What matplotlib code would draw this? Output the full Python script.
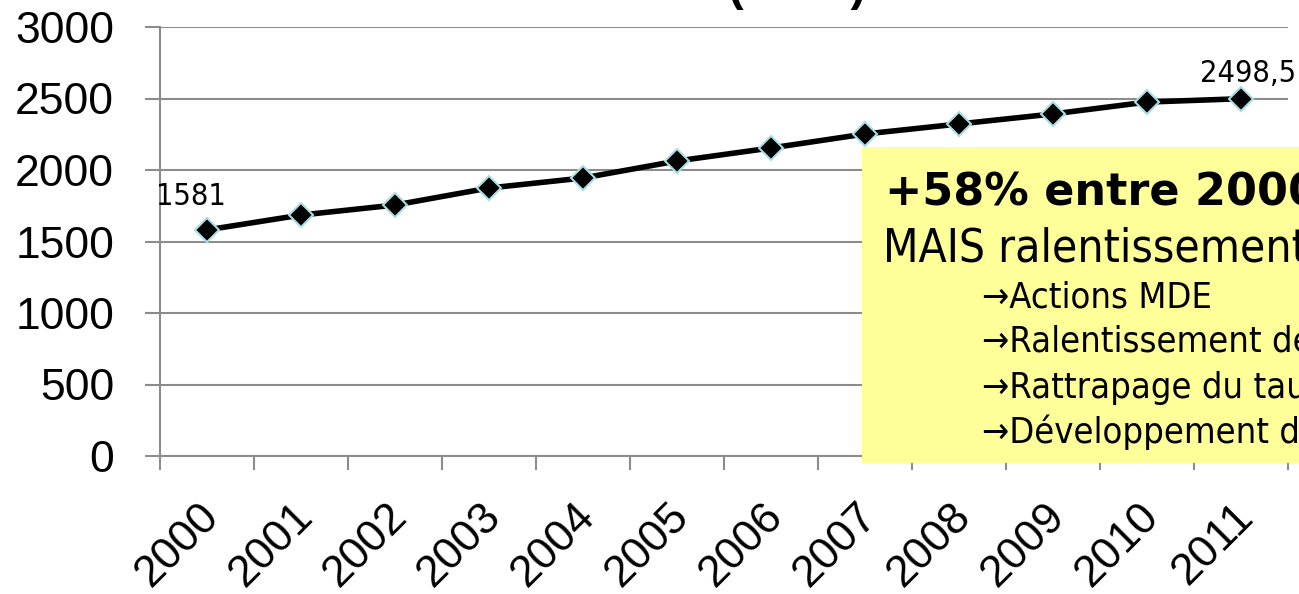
import matplotlib.pyplot as plt
from matplotlib.patches import Rectangle
from matplotlib.transforms import ScaledTranslation

years = ['2000', '2001', '2002', '2003', '2004', '2005',
         '2006', '2007', '2008', '2009', '2010', '2011']
conso = [1581, 1685, 1755, 1874, 1944, 2063, 2154, 2252, 2322, 2392, 2475, 2498.5]
shown_labels = ['1581', '', '', '', '', '', '', '', '', '', '', '2498,5']

box_title = '+58% entre 2000 et 2011'
box_sub = 'MAIS ralentissement de la croissance'
box_items = ['→Actions MDE',
             '→Ralentissement de la croissance démographique',
             '→Rattrapage du taux d\'équipement',
             '→Développement des énergies renouvelables']

W, H = 1299, 594
grey = '#8c8c8c'
label_font = ['DejaVu Sans']

fig = plt.figure(figsize=(W / 100, H / 100), dpi=100)
ax = fig.add_axes([160 / W, 1 - 456 / H, (1288 - 160) / W, (456 - 27) / H])

x = list(range(len(years)))
ax.plot(x, conso, color='black', lw=4, marker='D', markersize=12,
        markerfacecolor='black', markeredgecolor='#a9dde2', markeredgewidth=1.5,
        zorder=3, clip_on=False)

# data labels on first and last points
offsets = [(-11.5, 18), (5, 12)]
k = 0
for i, lab in enumerate(shown_labels):
    if lab:
        ax.annotate(lab, (x[i], conso[i]), xytext=offsets[k], textcoords='offset points',
                    ha='center', va='baseline', fontsize=22, family=label_font,
                    fontstretch='condensed', annotation_clip=False)
        k += 1

ax.set_xlim(-0.5, len(years) - 0.5)
ax.set_ylim(0, 3000)
ax.set_yticks(range(0, 3001, 500))
ax.grid(axis='y', color=grey, lw=1.5)
ax.set_axisbelow(True)

for s in ['top', 'right']:
    ax.spines[s].set_visible(False)
for s in ['left', 'bottom']:
    ax.spines[s].set_color(grey)
    ax.spines[s].set_linewidth(1.5)

ax.tick_params(axis='y', length=11, width=1.5, color=grey, pad=22,
               labelsize=32, labelfontfamily='Liberation Sans')

# category boundaries carry the tick marks, labels sit at the centres
ax.set_xticks([i - 0.5 for i in range(len(years) + 1)], minor=True)
ax.tick_params(axis='x', which='minor', length=10, width=1.5, color=grey)
ax.set_xticks(x)
ax.set_xticklabels(years, rotation=45, ha='right', va='center',
                   rotation_mode='anchor', fontsize=32, family='Liberation Sans')
ax.tick_params(axis='x', which='major', length=0, pad=0)
shift = ScaledTranslation(6 / 100, -54 / 100, fig.dpi_scale_trans)
for t in ax.get_xticklabels():
    t.set_transform(t.get_transform() + shift)

# title, mostly above the top edge
fig.text(866 / W, 1.0, "Consommation d'électricité (GWh)", ha='right', va='baseline',
         fontsize=33, fontweight='bold', family='Liberation Sans')

# yellow comment box
fig.add_artist(Rectangle((862 / W, 1 - 463 / H), (1320 - 862) / W, (463 - 147) / H,
                         transform=fig.transFigure, facecolor='#ffff99',
                         edgecolor='none', zorder=5))
fig.text(885 / W, 1 - 205 / H, box_title, fontsize=32, fontweight='bold',
         family=label_font, va='baseline', zorder=6)
fig.text(883 / W, 1 - 262 / H, box_sub, fontsize=33, family=label_font,
         fontstretch='condensed', va='baseline', zorder=6)
for j, item in enumerate(box_items):
    fig.text(982 / W, 1 - (307 + 45.3 * j) / H, item, fontsize=26, family=label_font,
             fontstretch='condensed', va='baseline', zorder=6)

fig.savefig('out.png', dpi=100)
